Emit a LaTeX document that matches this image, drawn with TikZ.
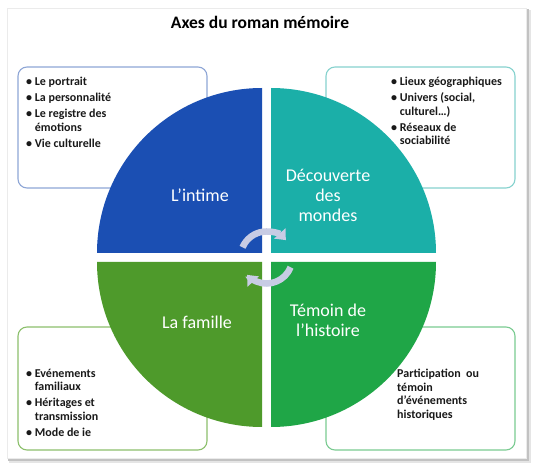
\documentclass[tikz,border=0pt]{standalone}
\usepackage{fontspec}
\setmainfont{Carlito}
\usetikzlibrary{arrows.meta}
\usetikzlibrary{calc}
\definecolor{intime}{HTML}{1B4FB3}
\definecolor{monde}{HTML}{1BAFA8}
\definecolor{famille}{HTML}{4E9A2B}
\definecolor{histoire}{HTML}{1FA647}
\definecolor{bordintime}{HTML}{8EA6D6}
\definecolor{bordmonde}{HTML}{86D2CE}
\definecolor{bordfamille}{HTML}{8CC06C}
\definecolor{bordhistoire}{HTML}{7ACB91}
\definecolor{fleche}{HTML}{C8CCE4}

\begin{document}
\begin{tikzpicture}[x=1pt, y=1pt, line cap=round,
    axebox/.style={draw, line width=1.1pt, rounded corners=9pt},
    axelabel/.style={text=white, align=center, font=\fontsize{18}{20}\selectfont},
    axelist/.style={anchor=north west, align=left, inner sep=0pt, text=black!90,
        font=\bfseries\fontsize{12}{13.5}\selectfont},
    cyclearrow/.style={line width=6.5pt, draw=fleche, line cap=butt,
        -{Triangle[width=15pt, length=9pt]}}]
    % rayon des quarts, demi-ecart, rayon des fleches
    \def\R{165}
    \def\g{4.5}
    \def\r{26}
    \useasboundingbox (0,0) rectangle (539,472);

    % page et ombre
    \fill[black!10] (9,9.5) rectangle (530.5,462);
    \fill[black!24] (8,11.5) rectangle (528.5,463);
    \filldraw[fill=white, draw=black!8] (7,14) rectangle (526,464);

    \node[font=\bfseries\fontsize{17.5}{20}\selectfont] (titre) at (260,450) {Axes du roman mémoire};

    \coordinate (O) at (266.5,214.5);

    % cadres des listes
    \draw[axebox, bordintime] (18,284) rectangle (207,405);
    \draw[axebox, bordmonde] (326,284) rectangle (515,405);
    \draw[axebox, bordfamille] (18,22) rectangle (207,145);
    \draw[axebox, bordhistoire] (326,22) rectangle (515,145);

    % les quatre axes
    \fill[intime] ($(O)+(-\g,\g)$) -- ++(-\R,0) arc (180:90:\R) -- cycle;
    \fill[monde] ($(O)+(\g,\g)$) -- ++(\R,0) arc (0:90:\R) -- cycle;
    \fill[famille] ($(O)+(-\g,-\g)$) -- ++(-\R,0) arc (180:270:\R) -- cycle;
    \fill[histoire] ($(O)+(\g,-\g)$) -- ++(\R,0) arc (0:-90:\R) -- cycle;

    \draw[cyclearrow] ($(O)+(157:\r)$) arc (157:42:\r);
    \draw[cyclearrow] ($(O)+(-22:\r)$) arc (-22:-138:\r);

    \node[axelabel] (lintime) at (200,277) {L’intime};
    \node[axelabel] (lmonde) at (328,277) {Découverte\\des\\mondes};
    \node[axelabel] (lfamille) at (197,150) {La famille};
    \node[axelabel] (lhistoire) at (328,152) {Témoin de\\l’histoire};

    \node[axelist] (listeintime) at (26,395) {\textbullet\ Le portrait\\[2.5pt]
        \textbullet\ La personnalité\\[2.5pt]
        \textbullet\ Le registre des\\
        \hphantom{\textbullet\ }émotions\\[2.5pt]
        \textbullet\ Vie culturelle};
    \node[axelist] (listemonde) at (391,395) {\textbullet\ Lieux géographiques\\[2.5pt]
        \textbullet\ Univers (social,\\
        \hphantom{\textbullet\ }culturel…)\\[2.5pt]
        \textbullet\ Réseaux de\\
        \hphantom{\textbullet\ }sociabilité};
    \node[axelist] (listefamille) at (26,103) {\textbullet\ Evénements\\
        \hphantom{\textbullet\ }familiaux\\[2.5pt]
        \textbullet\ Héritages et\\
        \hphantom{\textbullet\ }transmission\\[2.5pt]
        \textbullet\ Mode de ie};
    \node[axelist] (listehistoire) at (397,103)
        {Participation~ ou\\témoin\\d’événements\\historiques};
\end{tikzpicture}
\end{document}
